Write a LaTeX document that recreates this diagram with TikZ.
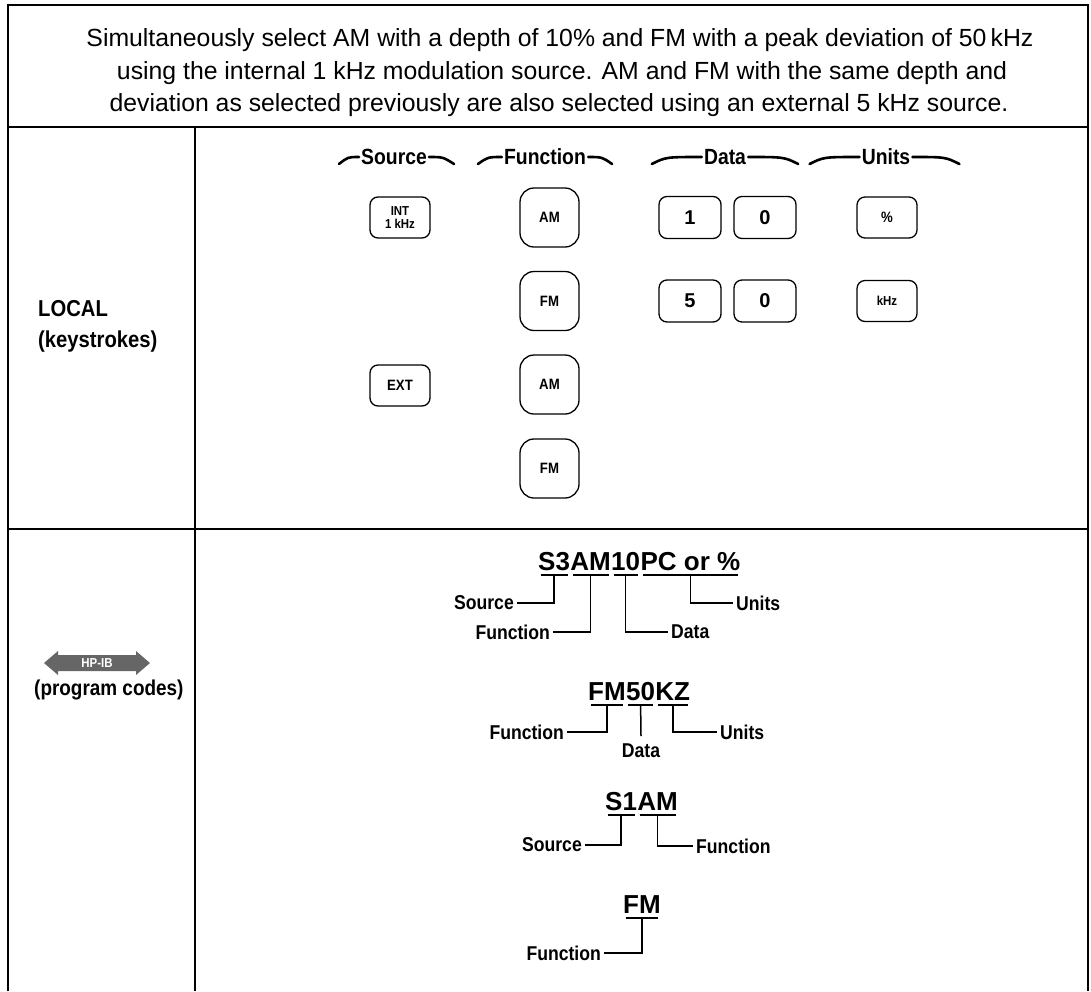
\documentclass[tikz,border=0pt]{standalone}
\usepackage{fontspec}
\setmainfont{Liberation Sans}
\newfontfamily\condfont[FakeStretch=0.88]{Liberation Sans}
\usetikzlibrary{calc}

\begin{document}
\begin{tikzpicture}[x=1pt,y=-1pt,
	frame/.style={line width=2pt},
	rule/.style={line width=1.8pt},
	headline/.style={font=\fontsize{24.8}{28}\selectfont,anchor=base,inner sep=0pt},
	key/.style={draw,line width=1.3pt,inner sep=0pt,align=center,font=\condfont\bfseries\fontsize{15}{14}\selectfont},
	srckey/.style={key,rounded corners=8pt,minimum width=60pt,minimum height=41pt},
	fnkey/.style={key,rounded corners=14pt,minimum width=59pt,minimum height=59pt},
	datakey/.style={srckey,minimum width=62pt,minimum height=42pt,font=\bfseries\fontsize{20}{20}\selectfont},
	colhead/.style={font=\condfont\bfseries\fontsize{22}{24}\selectfont,inner xsep=2pt},
	swoosh/.style={line width=2.6pt,line cap=round},
	sidelabel/.style={font=\condfont\bfseries\fontsize{23}{26}\selectfont,anchor=base west,inner sep=0pt},
	codepart/.style={font=\bfseries\fontsize{26}{28}\selectfont,inner xsep=0pt,anchor=base west},
	codelabel/.style={font=\condfont\bfseries\fontsize{20}{22}\selectfont,inner xsep=3pt,inner ysep=2pt},
	underline/.style={line width=2pt},
	leader/.style={line width=1.5pt}]
	\useasboundingbox (0,0) rectangle (1091,991);
	% frame and table rules
	\draw[frame] (8,991) -- (8,5) -- (1088,5) -- (1088,991);
	\draw[rule] (8,127) -- (1088,127);
	\draw[rule] (8,529) -- (1088,529);
	\draw[rule] (195,127) -- (195,991);
	% task text
	\node[headline] (intro1) at (560,46.5) {Simultaneously select AM with a depth of 10\% and FM with a peak deviation of 50\,kHz};
	\node[headline] (intro2) at (562,79) {using the internal 1 kHz modulation source. AM and FM with the same depth and};
	\node[headline] (intro3) at (559,111.5) {deviation as selected previously are also selected using an external 5 kHz source.};
	% row titles
	\node[sidelabel] (llocal) at (38,316) {LOCAL};
	\node[sidelabel] (lkeys) at (38,347) {(keystrokes)};
	\fill[black!60] (44,663) -- (58,651) -- (58,655) -- (136,655) -- (136,651) -- (150,663) -- (136,675) -- (136,671) -- (58,671) -- (58,675) -- cycle;
	\node[font=\condfont\bfseries\fontsize{13}{14}\selectfont,text=white] (hpib) at (97,663) {HP-IB};
	\node[sidelabel,font=\condfont\bfseries\fontsize{21.5}{26}\selectfont] (lprog) at (34,695) {(program codes)};
	% column heads
	\node[colhead] (hsrc) at (394,157) {Source};
	\draw[swoosh] ($(hsrc.west)+(-20,7)$) .. controls ($(hsrc.west)+(-11,0)$) .. (hsrc.west);
	\draw[swoosh] (hsrc.east) .. controls ($(hsrc.east)+(14,0)$) .. ($(hsrc.east)+(25,7)$);
	\node[colhead] (hfn) at (545,157) {Function};
	\draw[swoosh] ($(hfn.west)+(-24,7)$) .. controls ($(hfn.west)+(-14,0)$) .. (hfn.west);
	\draw[swoosh] (hfn.east) .. controls ($(hfn.east)+(14,0)$) .. ($(hfn.east)+(24,7)$);
	\node[colhead] (hdata) at (725,157) {Data};
	\draw[swoosh] ($(hdata.west)+(-50,7)$) .. controls ($(hdata.west)+(-36,0)$) .. (hdata.west);
	\draw[swoosh] (hdata.east) .. controls ($(hdata.east)+(36,0)$) .. ($(hdata.east)+(50,7)$);
	\node[colhead] (hunits) at (886,157) {Units};
	\draw[swoosh] ($(hunits.west)+(-50,7)$) .. controls ($(hunits.west)+(-36,0)$) .. (hunits.west);
	\draw[swoosh] (hunits.east) .. controls ($(hunits.east)+(33,0)$) .. ($(hunits.east)+(47,7)$);
	% keys
	\node[srckey,font=\condfont\bfseries\fontsize{13}{13}\selectfont] (kint) at (400,217.5) {INT\\1 kHz};
	\node[fnkey] (kam1) at (549.5,217.5) {AM};
	\node[datakey] (kone) at (690,217.5) {1};
	\node[datakey] (kzero1) at (765,217.5) {0};
	\node[srckey] (kpct) at (887,217.5) {\%};
	\node[fnkey] (kfm1) at (549.5,301) {FM};
	\node[datakey] (kfive) at (690,301) {5};
	\node[datakey] (kzero2) at (765,301) {0};
	\node[srckey,font=\condfont\bfseries\fontsize{13}{13}\selectfont] (kkhz) at (887,301) {kHz};
	\node[srckey] (kext) at (400,385.5) {EXT};
	\node[fnkey] (kam2) at (549.5,384.5) {AM};
	\node[fnkey] (kfm2) at (549.5,468.5) {FM};
	% program codes
	\node[codepart] (c1a) at (538,570) {S3};
	\node[codepart] (c1b) at (c1a.base east) {AM};
	\node[codepart] (c1c) at (c1b.base east) {10};
	\node[codepart] (c1d) at (c1c.base east) {PC or \%};
	\node[codepart] (c2a) at (588,700) {FM};
	\node[codepart] (c2b) at (c2a.base east) {50};
	\node[codepart] (c2c) at (c2b.base east) {KZ};
	\node[codepart] (c3a) at (605,810) {S1};
	\node[codepart] (c3b) at (c3a.base east) {AM};
	\node[codepart] (c4a) at (623,913) {FM};
	\foreach \p in {c1a,c1b,c1c,c1d,c2a,c2b,c2c,c3a,c3b,c4a}
		\draw[underline] ($(\p.base west)+(2.5,5)$) -- ($(\p.base east)+(-2.5,5)$);
	\node[codelabel,anchor=east] (l1src) at (517,603) {Source};
	\node[codelabel,anchor=east] (l1fn) at (553,632) {Function};
	\node[codelabel,anchor=west] (l1data) at (668,632) {Data};
	\node[codelabel,anchor=west] (l1units) at (733,603) {Units};
	\node[codelabel,anchor=east] (l2fn) at (567,732) {Function};
	\node[codelabel,anchor=north,inner ysep=8pt] (l2data) at (641,736) {Data};
	\node[codelabel,anchor=west] (l2units) at (717,732) {Units};
	\node[codelabel,anchor=east] (l3src) at (585,845) {Source};
	\node[codelabel,anchor=west] (l3fn) at (693,846) {Function};
	\node[codelabel,anchor=east] (l4fn) at (604,953) {Function};
	\draw[leader] ($(c1a.base)+(0,5)$) |- (l1src.east);
	\draw[leader] ($(c1b.base)+(0,5)$) |- (l1fn.east);
	\draw[leader] ($(c1c.base)+(0,5)$) |- (l1data.west);
	\draw[leader] ($(c1d.base)+(0,5)$) |- (l1units.west);
	\draw[leader] ($(c2a.base)+(0,5)$) |- (l2fn.east);
	\draw[leader] ($(c2b.base)+(0,5)$) -- (l2data.north);
	\draw[leader] ($(c2c.base)+(0,5)$) |- (l2units.west);
	\draw[leader] ($(c3a.base)+(0,5)$) |- (l3src.east);
	\draw[leader] ($(c3b.base)+(0,5)$) |- (l3fn.west);
	\draw[leader] ($(c4a.base)+(0,5)$) |- (l4fn.east);
\end{tikzpicture}
\end{document}
